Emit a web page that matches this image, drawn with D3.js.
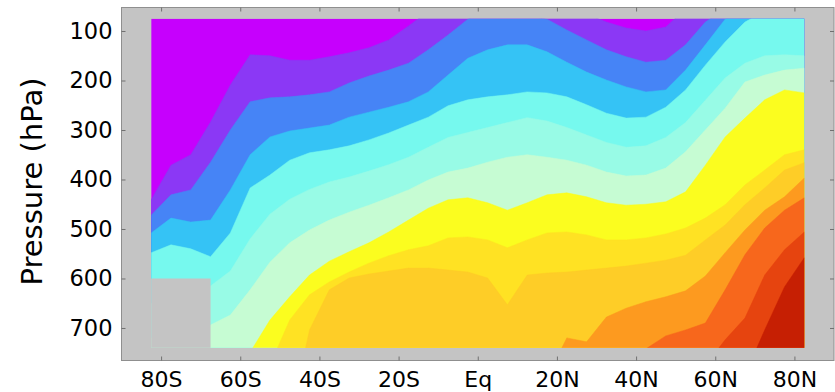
<!DOCTYPE html>
<html><head><meta charset="utf-8">
<script src="https://cdn.jsdelivr.net/npm/d3@7"></script>
<style>body{margin:0;background:#fff}</style>
</head><body>
<svg id="chart" width="835" height="392"></svg>
<script>
// Latitude columns of the data grid (degrees, negative = south)
const latitudes = [-82.5,-77.5,-72.5,-67.5,-62.5,-57.5,-52.5,-47.5,-42.5,-37.5,-32.5,-27.5,-22.5,-17.5,-12.5,-7.5,-2.5,
                   2.5,7.5,12.5,17.5,22.5,27.5,32.5,37.5,42.5,47.5,52.5,57.5,62.5,67.5,72.5,77.5,82.5];
const xTickValues = [-80,-60,-40,-20,0,20,40,60,80];
const xTickLabels = ["80S","60S","40S","20S","Eq","20N","40N","60N","80N"];
const yTickValues = [100,200,300,400,500,600,700];
const pressureTop = 75, pressureBottom = 740;
const missingLatMax = -67.5, missingPressureMin = 600;

// Filled-contour colours, lowest level first
const levelColors = ["#c600fd","#8b38f5","#4684f6","#35c3f5","#76f9ee","#98fbe6","#c6fcd3",
                     "#fbfd1f","#ffe223","#fecd27","#fd9a1f","#f7671c","#e6440f","#c61f03"];

// Pressure (hPa) of each contour line at each latitude (field exceeds the level below this pressure)
const contour1  = [441,371,350,284,209,148,150,159,159,152,144,134,118,90,60,40,40,40,40,40,40,40,65,82,94,100,92,55,40,40,40,40,40,40];
const contour2  = [472,431,421,365,300,243,235,233,229,223,205,191,179,165,138,108,76,55,60,68,76,98,118,138,152,163,159,128,82,55,40,40,40,40];
const contour3  = [508,478,486,482,421,350,314,302,296,290,274,264,254,243,223,189,155,138,128,128,142,163,183,199,213,223,219,179,128,76,55,40,40,40];
const contour4  = [548,532,540,556,508,417,391,361,346,340,332,320,306,290,274,251,239,233,229,223,225,233,249,266,276,274,254,219,169,122,82,60,45,45];
const contour5  = [650,640,630,615,585,520,470,440,420,405,395,383,370,355,335,315,305,295,285,275,282,295,310,325,335,332,315,285,240,195,165,150,148,150];
const contour6  = [720,720,720,694,674,623,567,528,502,482,466,452,437,421,401,385,377,365,355,350,355,361,371,385,393,391,377,344,300,256,203,189,179,175];
const contour7  = [800,800,800,845,795,749,684,637,593,565,546,528,506,482,458,441,437,447,462,447,431,427,435,447,452,450,445,425,371,314,276,239,219,225];
const contour8  = [900,900,900,900,900,845,775,684,633,607,587,569,554,542,534,518,516,522,538,522,508,506,512,522,522,518,510,498,478,451,411,381,350,340];
const contour9  = [900,900,900,900,900,900,900,886,704,623,599,591,585,579,579,583,587,599,653,593,589,587,583,579,575,569,563,553,522,492,451,417,381,366];
const contour10 = [900,900,900,900,900,900,900,900,900,900,900,900,900,900,900,900,900,900,900,900,800,720,728,678,660,647,637,625,595,548,502,462,435,397];
const contour11 = [900,900,900,900,900,900,900,900,900,900,900,900,900,900,900,900,900,900,900,900,900,900,900,900,785,742,716,704,690,623,552,498,462,437];
const contour12 = [900,900,900,900,900,900,900,900,900,900,900,900,900,900,900,900,900,900,900,900,900,900,900,900,900,900,900,900,775,724,680,593,542,506];
const contour13 = [900,900,900,900,900,900,900,900,900,900,900,900,900,900,900,900,900,900,900,900,900,900,900,900,900,900,900,900,900,900,795,704,617,558];

const contours = [contour1,contour2,contour3,contour4,contour5,contour6,contour7,contour8,contour9,contour10,contour11,contour12,contour13];

const svg = d3.select("#chart");
const x = d3.scaleLinear().domain([-90, 90]).range([121.5, 834]);
const y = d3.scaleLinear().domain([52.5, 765.7]).range([7.5, 360.5]);
const axisGray = "#c4c4c4";

// axes background
svg.append("rect")
  .attr("x", x(-90)).attr("y", y(52.5))
  .attr("width", x(90) - x(-90)).attr("height", y(765.7) - y(52.5))
  .attr("fill", axisGray).attr("stroke", "#8f8f8f").attr("stroke-width", 1);

const x0 = x(latitudes[0]), x1 = x(latitudes[latitudes.length - 1]);
svg.append("clipPath").attr("id", "dataClip")
  .append("rect").attr("x", x0).attr("y", y(pressureTop))
  .attr("width", x1 - x0).attr("height", y(pressureBottom) - y(pressureTop));

const plot = svg.append("g").attr("clip-path", "url(#dataClip)");
plot.append("rect").attr("x", x0).attr("y", y(pressureTop))
  .attr("width", x1 - x0).attr("height", y(pressureBottom) - y(pressureTop))
  .attr("fill", levelColors[0]);

const area = d3.area()
  .x((d, i) => x(latitudes[i]))
  .y0(y(1000))
  .y1(d => y(d));

plot.selectAll("path.band").data(contours).join("path")
  .attr("class", "band")
  .attr("d", d => area(d))
  .attr("fill", (d, i) => levelColors[i + 1])
  .attr("stroke", (d, i) => levelColors[i + 1])
  .attr("stroke-width", 0.5);

// missing-data region
svg.append("rect")
  .attr("x", x(latitudes[0])).attr("y", y(missingPressureMin))
  .attr("width", x(missingLatMax) - x(latitudes[0]))
  .attr("height", y(pressureBottom) - y(missingPressureMin))
  .attr("fill", axisGray);

// axes
const fontFamily = "'DejaVu Sans', sans-serif";
function styleAxis(g, size) {
  g.select(".domain").remove();
  g.selectAll(".tick line").attr("stroke", "#707070");
  g.selectAll("text").attr("fill", "#000").attr("font-family", fontFamily).attr("font-size", size);
}
svg.append("g").attr("transform", `translate(0,${y(765.7)})`)
  .call(d3.axisBottom(x).tickValues(xTickValues).tickFormat((d, i) => xTickLabels[i])
    .tickSizeInner(-4).tickSizeOuter(0).tickPadding(11))
  .call(g => styleAxis(g, "22px"));
svg.append("g").attr("transform", `translate(0,${y(52.5)})`)
  .call(d3.axisTop(x).tickValues(xTickValues).tickFormat("").tickSizeInner(-4).tickSizeOuter(0))
  .call(g => styleAxis(g, "22px"));
svg.append("g").attr("transform", `translate(${x(-90)},0)`)
  .call(d3.axisLeft(y).tickValues(yTickValues).tickFormat(d3.format("d"))
    .tickSizeInner(-4).tickSizeOuter(0).tickPadding(9))
  .call(g => styleAxis(g, "22.5px"));
svg.append("g").attr("transform", `translate(${x(90)},0)`)
  .call(d3.axisRight(y).tickValues(yTickValues).tickFormat("").tickSizeInner(-4).tickSizeOuter(0))
  .call(g => styleAxis(g, "22px"));

svg.append("text")
  .attr("transform", `translate(42,${(y(100) + y(700)) / 2 + 2}) rotate(-90)`)
  .attr("text-anchor", "middle")
  .attr("font-family", fontFamily).attr("font-size", "29px").attr("fill", "#000")
  .text("Pressure (hPa)");
</script>
</body></html>
